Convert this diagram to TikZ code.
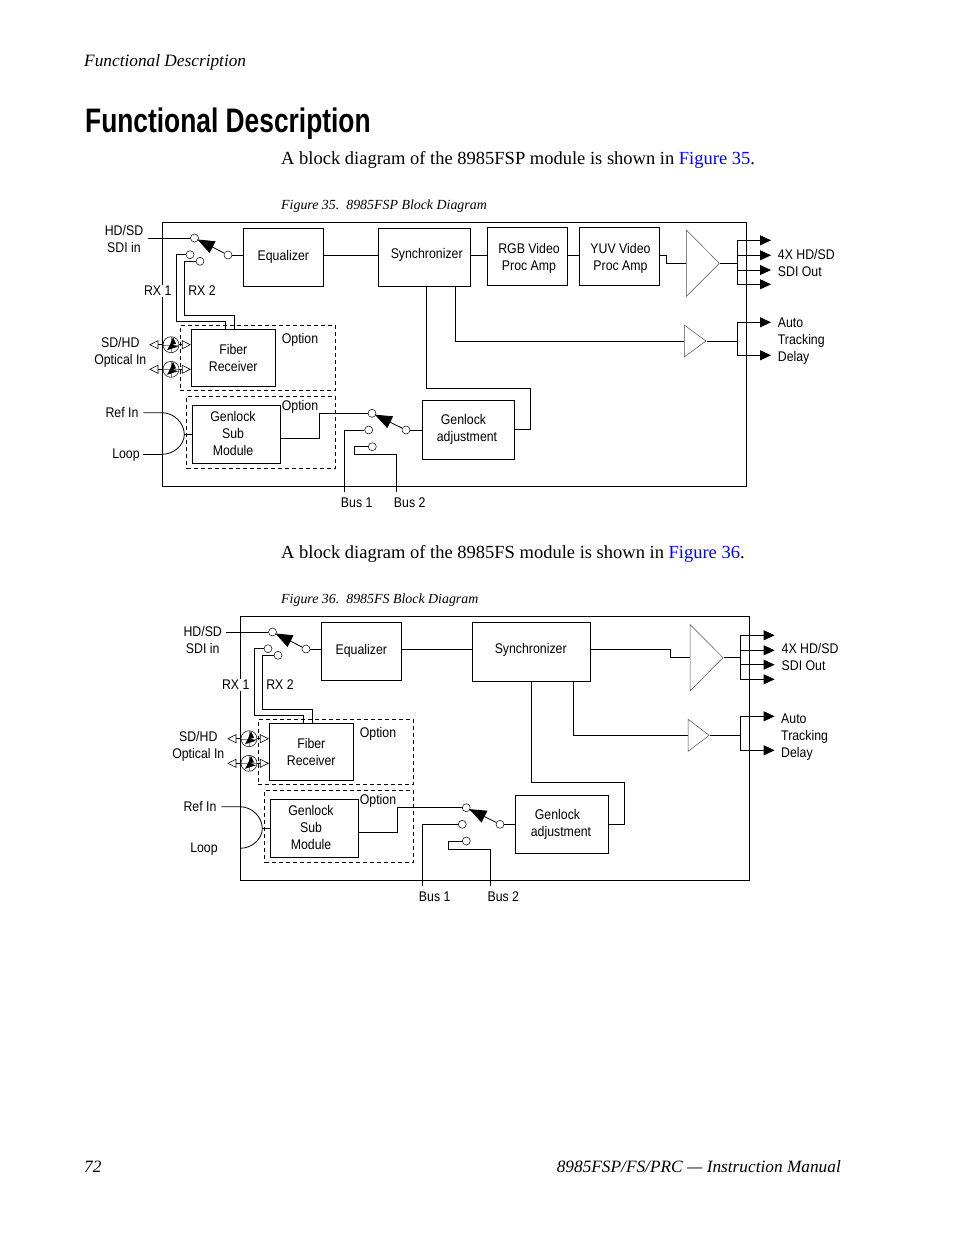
\documentclass[tikz,border=0pt]{standalone}
\usepackage{fontspec}
\usetikzlibrary{arrows.meta,shapes.geometric}
\setmainfont{Liberation Serif}
\newfontfamily\labelfamily[FakeStretch=0.88]{Liberation Sans}
\newfontfamily\titlefamily[FakeStretch=0.775]{Liberation Sans Bold}
\definecolor{linkblue}{RGB}{0,0,255}
\tikzset{
    lblfont/.style={font=\labelfamily\fontsize{14}{17}\selectfont, align=center, inner sep=0pt},
    lbl/.style={lblfont, yshift=-1pt},
    lblleft/.style={lbl, align=left, anchor=west},
    block/.style={lblfont, draw, line width=0.8pt},
    frame/.style={draw, line width=0.8pt, inner sep=0pt},
    optbox/.style={draw, dash pattern=on 4pt off 3pt, line width=0.7pt, inner sep=0pt},
    contact/.style={circle, draw, fill=white, inner sep=0pt, minimum size=8pt, line width=0.5pt},
    conn/.style={line width=0.8pt},
    arm/.style={conn, -{Triangle[length=17pt,width=13pt]}, shorten >=-1pt},
    outarrow/.style={conn, -{Triangle[length=11pt,width=10pt]}},
    openarrow/.style={line width=0.6pt, -{Triangle[open,length=9pt,width=9pt]}},
    amp/.style={isosceles triangle, isosceles triangle stretches, draw=black!70, line width=0.5pt, inner sep=0pt},
    optic/.style={circle, draw, fill=white, inner sep=0pt, minimum size=16pt, line width=0.5pt,
      path picture={
        \draw[black!50, line width=0.3pt, shift={(path picture bounding box.center)}] (-8,0) -- (8,0) (0,-8) -- (0,8);
        \fill[black, shift={(path picture bounding box.center)}, rotate=#1]
          (-4,5.5) -- (7,2) -- (1.5,0) -- (5,-1) -- (2,-7.5) -- (-1,0) -- cycle;
      }},
    body/.style={font=\fontsize{18.5}{22}\selectfont, anchor=west, inner sep=0pt},
    caption/.style={font=\itshape\fontsize{13.9}{17}\selectfont, anchor=west, inner sep=0pt},
    running/.style={font=\itshape\fontsize{17.3}{20}\selectfont, anchor=west, inner sep=0pt},
}
% input side, the same in both diagrams
\newcommand{\frontend}[2]{
  \begin{scope}[shift={#1}, name prefix=#2]
    \node[optbox, minimum width=155.4pt, minimum height=65pt] (opt1) at (258,357.8) {};
    \node[optbox, minimum width=149pt, minimum height=71.6pt] (opt2) at (261.2,432.5) {};
    \node[block, minimum width=80pt, minimum height=58pt] (eq) at (283.3,257.3) {Equalizer};
    \node[block, minimum width=84pt, minimum height=57pt] (fib) at (233.3,357.8) {Fiber\\Receiver};
    \node[block, minimum width=88pt, minimum height=57.6pt] (sub) at (236.3,434.5) {};
    \node[lbl] (lsub) at (233,432.5) {Genlock\\Sub\\Module};
    \node[lbl] (lopt1) at (300,338.8) {Option};
    \node[lbl] (lopt2) at (300,405.5) {Option};

    \node[lbl, fill=white, inner sep=1pt] (lrx1) at (157.7,290) {RX 1};
    \node[lbl] (lrx2) at (202,290) {RX 2};
    \node[lbl] (lsd) at (120.3,351.5) {SD/HD\\Optical In};
    \node[lbl] (lref) at (122,411.5) {Ref In};
    \node[lbl] (lloop) at (126,453.7) {Loop};

    \node[contact] (c1) at (194.5,238) {};
    \node[contact] (c2) at (190,254.7) {};
    \node[contact] (c3) at (200,261.3) {};
    \node[contact] (cm) at (228,255) {};
    \coordinate (hdin) at (148,238);
    \draw[conn] (hdin) -- (c1);
    \draw[arm] (cm) -- (c1);
    \draw[conn] (cm) -- (eq.west |- cm);
    \draw[conn] (c2) -| (176,321.7) -- (225.7,321.7) -- (225.7,0 |- fib.north);
    \draw[conn] (c3) -| (184,315.7) -- (234,315.7) -- (234,0 |- fib.north);

    \node[optic=0] (o1) at (171,344.7) {};
    \node[optic=180] (o2) at (171,369.3) {};
    \coordinate (ol1) at (149.3,344.7);
    \coordinate (ol2) at (149.3,369.3);
    \draw[openarrow] (o1) -- (ol1);
    \draw[openarrow] (o2) -- (ol2);
    \draw[openarrow] (o1) -- (fib.west |- o1);
    \draw[openarrow] (o2) -- (fib.west |- o2);

    \coordinate (refin) at (143.3,412.7);
    \coordinate (apex) at (184.3,434.5);
    \coordinate (loopin) at (162,454.3);
    \draw[conn] (refin) -- (162,412.7) .. controls (174,412.7) and (184.3,423) .. (apex)
      .. controls (184.3,445) and (174,454.3) .. (loopin);
    \draw[conn] (apex) -- (sub.west |- apex);
  \end{scope}
}

\begin{document}
\begin{tikzpicture}[x=1pt,y=-1pt]
  \useasboundingbox (0,0) rectangle (954,1235);

  % page text
  \node[running] (head) at (84,62.5) {Functional Description};
  \node[anchor=west, inner sep=0pt, font=\titlefamily\fontsize{34}{38}\selectfont] (title) at (85,124) {Functional Description};
  \node[body] (intro1) at (281,160) {A block diagram of the 8985FSP module is shown in \textcolor{linkblue}{Figure 35}.};
  \node[caption] (cap1) at (281,206.5) {Figure 35.\hspace{0.5em}8985FSP Block Diagram};
  \node[body] (intro2) at (281,554) {A block diagram of the 8985FS module is shown in \textcolor{linkblue}{Figure 36}.};
  \node[caption] (cap2) at (281,600.5) {Figure 36.\hspace{0.5em}8985FS Block Diagram};
  \node[running] (pageno) at (84,1167) {72};
  \node[running, anchor=east] (manual) at (841,1167) {8985FSP/FS/PRC --- Instruction Manual};

  % 8985FSP
  \node[frame, minimum width=584pt, minimum height=264pt] (fra) at (454.3,354.3) {};
  \frontend{(0,0)}{a-}
  \node[lbl] (a-lhd) at (124,237.5) {HD/SD\\SDI in};
  \coordinate (a-loop) at (143.3,454.3);
  \draw[conn] (a-loop) -- (a-loopin);

  \node[block, minimum width=92pt, minimum height=58pt] (a-sync) at (424.3,257.3) {};
  \node[block, minimum width=80pt, minimum height=57.6pt] (a-rgb) at (527.3,256.5) {};
  \node[block, minimum width=80pt, minimum height=57.6pt] (a-yuv) at (619.3,256.5) {};
  \node[block, minimum width=92pt, minimum height=59pt] (a-adj) at (468.3,429.8) {};
  \node[lbl] (a-lsync) at (426.7,253.5) {Synchronizer};
  \node[lbl] (a-lrgb) at (529,257.5) {RGB Video\\Proc Amp};
  \node[lbl] (a-lyuv) at (620.5,257.5) {YUV Video\\Proc Amp};
  \node[lbl] (a-ladj) at (467,428.5) {Genlock\hspace*{7pt}\\adjustment};
  \node[amp, minimum height=33pt, minimum width=66.4pt, anchor=apex] (a-amp) at (720,263.3) {};
  \node[amp, minimum height=21.4pt, minimum width=31.7pt, anchor=apex] (a-tri) at (706.5,341) {};

  \draw[conn] (a-eq.east |- a-cm) -- (a-sync.west |- a-cm);
  \draw[conn] (a-sync.east |- a-cm) -- (a-rgb.west |- a-cm);
  \draw[conn] (a-rgb.east |- a-cm) -- (a-yuv.west |- a-cm);
  \draw[conn] (a-yuv.east |- a-cm) -| (666.7,263.3) -- (a-amp.lower side);
  \draw[conn] (455.3,0 |- a-sync.south) |- (a-tri.lower side);
  \draw[conn] ([xshift=2pt]a-sync.south) |- (530.7,388.3) |- (a-adj.east);

  \coordinate (a-bus) at (737.3,263.3);
  \draw[conn] (a-amp.apex) -- (a-bus);
  \foreach \n/\y in {o1/240.3,o2/255.3,o3/270,o4/284.3}{
    \coordinate (a-\n) at (771,\y);
    \draw[outarrow] (a-bus) |- (a-\n);
  }
  \coordinate (a-bust) at (737.3,341);
  \draw[conn] (a-tri.apex) -- (a-bust);
  \foreach \n/\y in {t1/322.3,t2/355.3}{
    \coordinate (a-\n) at (771,\y);
    \draw[outarrow] (a-bust) |- (a-\n);
  }
  \node[lblleft] (a-lsdi) at (777.7,262) {4X HD/SD\\SDI Out};
  \node[lblleft] (a-ltrack) at (777.7,340) {Auto\\Tracking\\Delay};

  \node[contact] (a-g1) at (372,413.3) {};
  \node[contact] (a-g2) at (368.7,430) {};
  \node[contact] (a-g3) at (372.3,446.7) {};
  \node[contact] (a-gm) at (406,430) {};
  \draw[arm] (a-gm) -- (a-g1);
  \draw[conn] (a-gm) -- (a-adj.west |- a-gm);
  \draw[conn] ([yshift=-3.8pt]a-sub.east) -| (319,413.3) -- (a-g1);
  \node[lbl] (a-lbus1) at (356.7,502) {Bus 1};
  \node[lbl] (a-lbus2) at (409.7,502) {Bus 2};
  \coordinate (a-bus1) at (344.7,491.7);
  \coordinate (a-bus2) at (396.3,491.7);
  \draw[conn] (a-g2) -| (a-bus1);
  \draw[conn] (a-g3) -| (354.3,454.7) -- (396.3,454.7) -- (a-bus2);

  % 8985FS
  \node[frame, minimum width=509.4pt, minimum height=264pt] (frb) at (495,748.3) {};
  \frontend{(78,394)}{b-}
  \node[lbl] (b-lhd) at (202.7,639) {HD/SD\\SDI in};

  \node[block, minimum width=118pt, minimum height=59pt] (b-sync) at (531.3,651.8) {};
  \node[block, minimum width=93pt, minimum height=58pt] (b-adj) at (561.8,824.3) {};
  \node[lbl] (b-lsync) at (530.7,648.5) {Synchronizer};
  \node[lbl] (b-ladj) at (561,823) {Genlock\hspace*{7pt}\\adjustment};
  \node[amp, minimum height=33pt, minimum width=66.4pt, anchor=apex] (b-amp) at (723.7,657.7) {};
  \node[amp, minimum height=21pt, minimum width=32pt, anchor=apex] (b-tri) at (709.8,735.3) {};

  \draw[conn] (b-eq.east |- b-cm) -- (b-sync.west |- b-cm);
  \draw[conn] (b-sync.east |- b-cm) -| (670,657.7) -- (b-amp.lower side);
  \draw[conn] (573.3,0 |- b-sync.south) |- (b-tri.lower side);
  \draw[conn] (b-sync.south) |- (624.3,782.3) |- (b-adj.east);

  \coordinate (b-bus) at (740.3,657.7);
  \draw[conn] (b-amp.apex) -- (b-bus);
  \foreach \n/\y in {o1/635.3,o2/650.3,o3/664.7,o4/679.3}{
    \coordinate (b-\n) at (774.6,\y);
    \draw[outarrow] (b-bus) |- (b-\n);
  }
  \coordinate (b-bust) at (740.3,735.3);
  \draw[conn] (b-tri.apex) -- (b-bust);
  \foreach \n/\y in {t1/716.3,t2/750.3}{
    \coordinate (b-\n) at (774.6,\y);
    \draw[outarrow] (b-bust) |- (b-\n);
  }
  \node[lblleft] (b-lsdi) at (781.5,656) {4X HD/SD\\SDI Out};
  \node[lblleft] (b-ltrack) at (781,736) {Auto\\Tracking\\Delay};

  \node[contact] (b-g1) at (466.3,807.7) {};
  \node[contact] (b-g2) at (462.3,824.3) {};
  \node[contact] (b-g3) at (466.3,841) {};
  \node[contact] (b-gm) at (500,824.3) {};
  \draw[arm] (b-gm) -- (b-g1);
  \draw[conn] (b-gm) -- (b-adj.west |- b-gm);
  \draw[conn] ([yshift=-3.8pt]b-sub.east) -| (397.3,807.7) -- (b-g1);
  \node[lbl] (b-lbus1) at (434.7,896) {Bus 1};
  \node[lbl] (b-lbus2) at (503.3,896) {Bus 2};
  \coordinate (b-bus1) at (422.7,886);
  \coordinate (b-bus2) at (490.3,886);
  \draw[conn] (b-g2) -| (b-bus1);
  \draw[conn] (b-g3) -| (448.3,849.3) -- (490.3,849.3) -- (b-bus2);
\end{tikzpicture}
\end{document}
